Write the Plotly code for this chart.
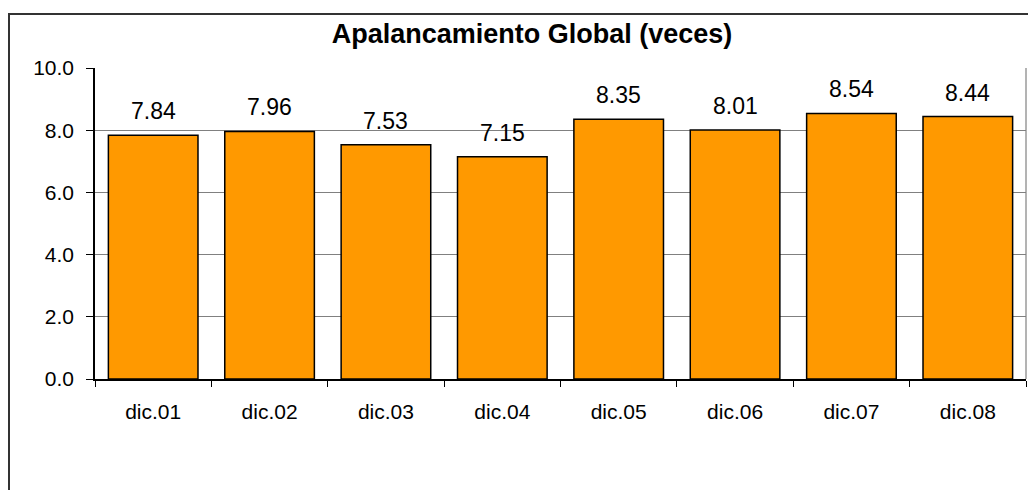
import plotly.graph_objects as go

# Leverage ratio by year-end
periods = ["dic.01", "dic.02", "dic.03", "dic.04", "dic.05", "dic.06", "dic.07", "dic.08"]
leverage = [7.84, 7.96, 7.53, 7.15, 8.35, 8.01, 8.54, 8.44]
y_ticks = [0, 2, 4, 6, 8, 10]
y_tick_labels = ["0.0", "2.0", "4.0", "6.0", "8.0", "10.0"]

W, H = 1028, 490
ML, MR, MT, MB = 95, 2, 68, 111
pw = W - ML - MR
ph = H - MT - MB

font_family = "Liberation Sans, Arial, sans-serif"

fig = go.Figure(
    go.Bar(
        x=periods,
        y=leverage,
        marker=dict(color="#FF9900", line=dict(color="#000000", width=1.5)),
        hoverinfo="skip",
    )
)

# Value labels above each bar
for p, v in zip(periods, leverage):
    fig.add_annotation(
        x=p, y=v, text=f"{v:.2f}", showarrow=False,
        yanchor="bottom", yshift=9,
        font=dict(family=font_family, size=23, color="#000000"),
    )

# Outer chart frame (extends past the page edges on the right and bottom)
fig.add_shape(
    type="rect", xref="paper", yref="paper",
    x0=(9 - ML) / pw, x1=1.2, y0=-1.0, y1=1 + (MT - 14) / ph,
    line=dict(color="#333333", width=2), layer="above",
)
# Grey right edge of plot area
fig.add_shape(
    type="line", xref="paper", yref="paper",
    x0=1, x1=1, y0=0, y1=1,
    line=dict(color="#808080", width=1.2),
)

fig.update_layout(
    width=W, height=H,
    margin=dict(l=ML, r=MR, t=MT, b=MB),
    paper_bgcolor="#FFFFFF", plot_bgcolor="#FFFFFF",
    bargap=0.23,
    showlegend=False,
    font=dict(family=font_family, color="#000000"),
    title=dict(
        text="<b>Apalancamiento Global (veces)</b>",
        x=532 / W, xref="container", xanchor="center",
        y=1 - 34 / H, yref="container", yanchor="middle",
        font=dict(family=font_family, size=27, color="#000000"),
    ),
)

fig.update_xaxes(
    showgrid=False,
    showline=True, linecolor="#000000", linewidth=1.5,
    ticks="outside", tickson="boundaries", ticklen=6, tickcolor="#000000", tickwidth=1,
    tickfont=dict(size=21, family=font_family, color="#000000"),
    ticklabelstandoff=13,
)
fig.update_yaxes(
    range=[0, 10],
    tickvals=y_ticks, ticktext=y_tick_labels,
    showgrid=True, gridcolor="#808080", gridwidth=1.2,
    showline=True, linecolor="#000000", linewidth=1.5,
    ticks="outside", ticklen=7, tickcolor="#000000", tickwidth=1,
    tickfont=dict(size=21, family=font_family, color="#000000"),
    ticklabelstandoff=8,
    zeroline=False,
)

fig.write_html("out.html")
